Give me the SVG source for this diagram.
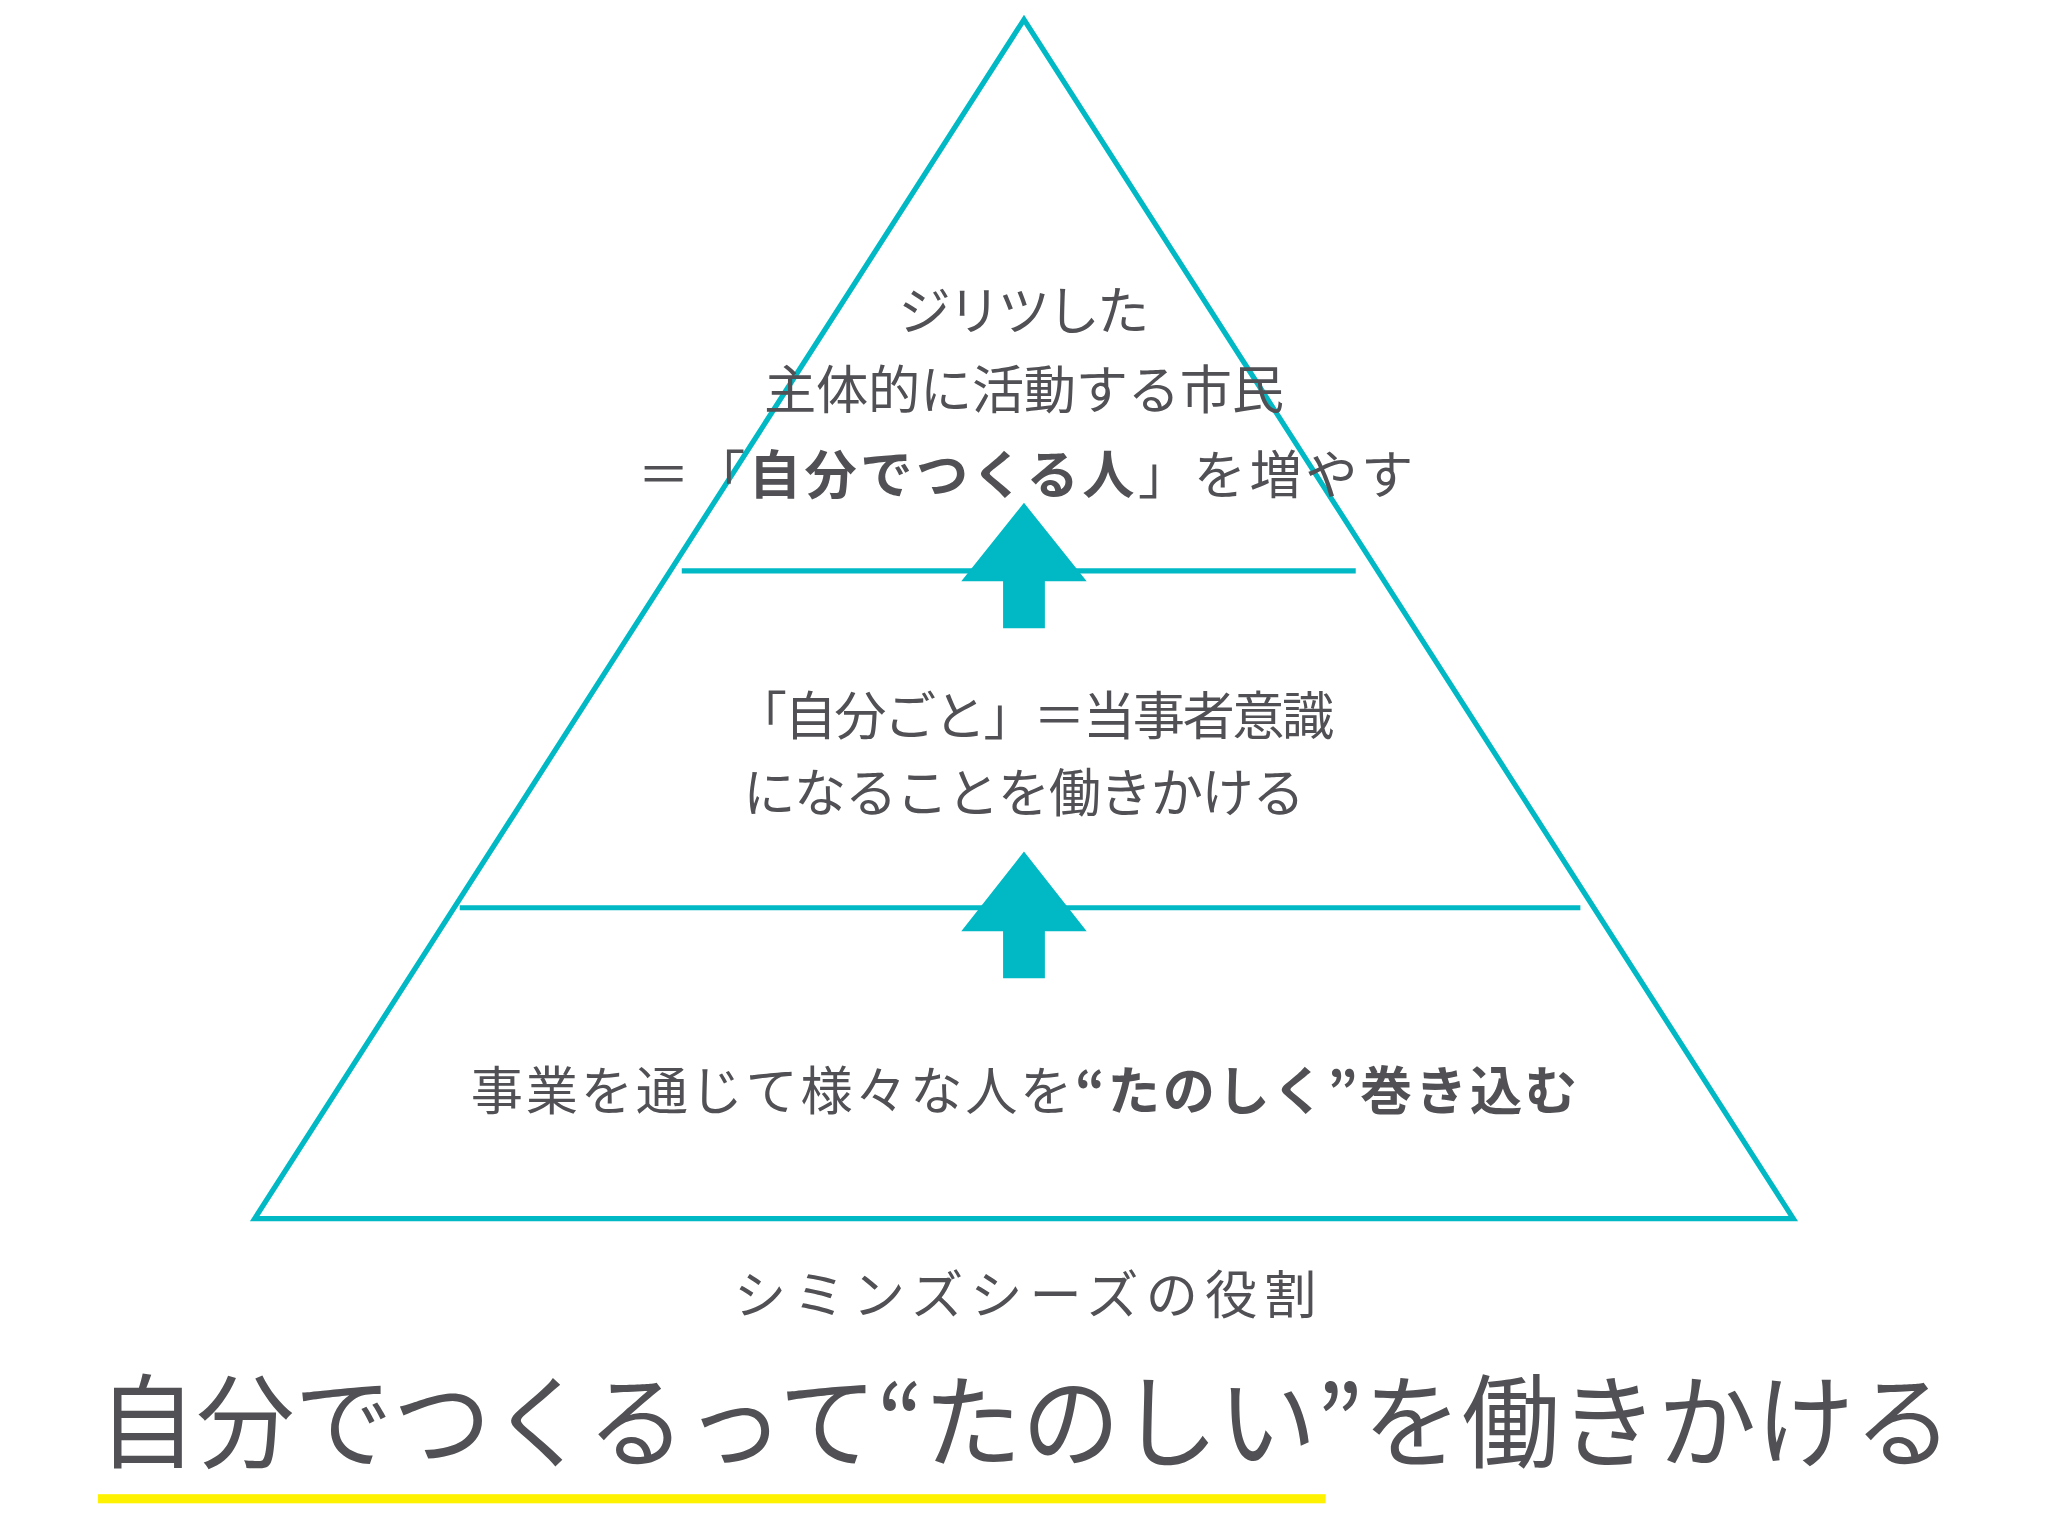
<svg xmlns="http://www.w3.org/2000/svg" width="2048" height="1536" viewBox="0 0 2048 1536">
<style>
.t{font-family:"Noto Sans CJK JP","Noto Sans",sans-serif;fill:#505055;text-anchor:middle;font-size:40px}
.b{font-weight:bold}
.ln{stroke:#00B9C4;stroke-width:4;fill:none}
.ar{fill:#00B9C4}
</style>
<rect width="2048" height="1536" fill="#fff"/>
<g transform="scale(1.3061)">
<g id="pyramid"><polygon class="ln" points="784,15 195,933 1373,933" stroke-width="5.5"/></g>
<g id="connectors">
<line class="ln" x1="522" y1="437" x2="1038" y2="437" stroke-width="3"/>
<line class="ln" x1="352" y1="695" x2="1210" y2="695" stroke-width="3"/>
<polygon class="ar" points="784,385 832,445 800,445 800,481 768,481 768,445 736,445"/>
<polygon class="ar" points="784,652 832,713 800,713 800,749 768,749 768,713 736,713"/>
</g>
<g id="top"><text class="t" x="784" y="253" textLength="192">ジリツした</text>
<text class="t" x="784" y="313" textLength="398">主体的に活動する市民</text>
<text class="t" x="785" y="378" textLength="594">＝「<tspan class="b">自分でつくる人</tspan>」を増やす</text></g>
<g id="middle"><text class="t" x="792" y="563" textLength="459">「自分ごと」＝当事者意識</text>
<text class="t" x="784" y="622" textLength="430">になることを働きかける</text></g>
<g id="bottom"><text class="t" x="784" y="850" textLength="847">事業を通じて様々な人を<tspan class="b">“たのしく”巻き込む</tspan></text></g>
<g id="caption"><text class="t" x="785" y="1006" font-size="44" textLength="446">シミンズシーズの役割</text></g>
<rect x="75" y="1144" width="940" height="7" fill="#FFF200"/>
<g id="title"><text class="t" x="785" y="1118" style="font-size:78px" textLength="1420" lengthAdjust="spacingAndGlyphs">自分でつくるって“たのしい”を働きかける</text></g>
</g>
</svg>
